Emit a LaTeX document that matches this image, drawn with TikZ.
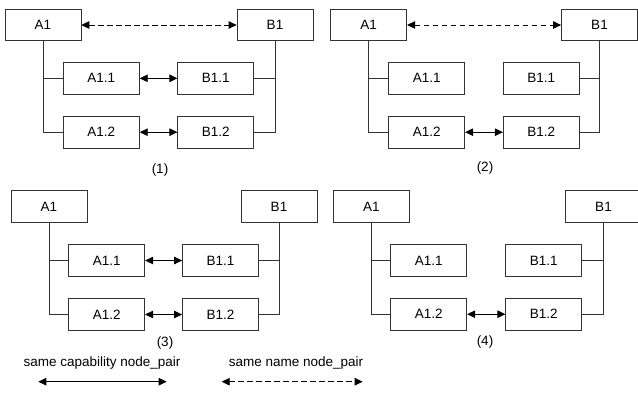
\documentclass[tikz,border=0pt]{standalone}
\usepackage{fontspec}
\setmainfont{Liberation Sans}
\usetikzlibrary{arrows.meta}
\tikzset{
  box/.style={draw=black!80, line width=0.8pt, minimum width=76pt, minimum height=32pt, inner sep=0pt, font=\fontsize{13.5}{15}\selectfont},
  topbox/.style={box, minimum height=31.5pt},
  tree/.style={draw=black!80, line width=0.8pt},
  pair/.style={draw=black, line width=0.9pt, {Triangle[length=8pt,width=7.5pt]}-{Triangle[length=8pt,width=7.5pt]}},
  namepair/.style={pair, dash pattern=on 5.5pt off 3.5pt},
  lbl/.style={inner sep=0pt, font=\fontsize{13.5}{15}\selectfont},
}
\begin{document}
\begin{tikzpicture}[x=1pt,y=-1pt]
\useasboundingbox (0,0) rectangle (638,392);
% ---------- panel 1
\node[topbox] (p1A1) at (42.9,25) {A1};
\node[topbox] (p1B1) at (275,25) {B1};
\node[box] (p1A11) at (101.3,78.3) {A1.1};
\node[box] (p1B11) at (215.8,78.3) {B1.1};
\node[box] (p1A12) at (101.3,132.2) {A1.2};
\node[box] (p1B12) at (215.8,132.2) {B1.2};
\draw[tree] (p1A1.south) |- (p1A12.west);
\draw[tree] (p1A11.west) -- (p1A11.west -| p1A1.south);
\draw[tree] (p1B1.south) |- (p1B12.east);
\draw[tree] (p1B11.east) -- (p1B11.east -| p1B1.south);
\draw[namepair] (p1A1) -- (p1B1);
\draw[pair] (p1A11) -- (p1B11);
\draw[pair] (p1A12) -- (p1B12);
\node[lbl] (p1lbl) at (160,170) {(1)};
% ---------- panel 2
\node[topbox] (p2A1) at (368.7,25) {A1};
\node[topbox] (p2B1) at (599.5,25) {B1};
\node[box] (p2A11) at (426.7,78.3) {A1.1};
\node[box] (p2B11) at (541.3,78.3) {B1.1};
\node[box] (p2A12) at (426.7,132.2) {A1.2};
\node[box] (p2B12) at (541.3,132.2) {B1.2};
\draw[tree] (p2A1.south) |- (p2A12.west);
\draw[tree] (p2A11.west) -- (p2A11.west -| p2A1.south);
\draw[tree] (p2B1.south) |- (p2B12.east);
\draw[tree] (p2B11.east) -- (p2B11.east -| p2B1.south);
\draw[namepair] (p2A1) -- (p2B1);
\draw[pair] (p2A12) -- (p2B12);
\node[lbl] (p2lbl) at (485,168) {(2)};
% ---------- panel 3
\node[box] (p3A1) at (49,206.7) {A1};
\node[box] (p3B1) at (279,206.7) {B1};
\node[box] (p3A11) at (106.7,260.5) {A1.1};
\node[box] (p3B11) at (220.5,260.5) {B1.1};
\node[box] (p3A12) at (106.7,314.5) {A1.2};
\node[box] (p3B12) at (220.5,314.5) {B1.2};
\draw[tree] (p3A1.south) |- (p3A12.west);
\draw[tree] (p3A11.west) -- (p3A11.west -| p3A1.south);
\draw[tree] (p3B1.south) |- (p3B12.east);
\draw[tree] (p3B11.east) -- (p3B11.east -| p3B1.south);
\draw[pair] (p3A11) -- (p3B11);
\draw[pair] (p3A12) -- (p3B12);
\node[lbl] (p3lbl) at (165,343) {(3)};
% ---------- panel 4
\node[box] (p4A1) at (371.3,206.7) {A1};
\node[box] (p4B1) at (603.5,206.7) {B1};
\node[box] (p4A11) at (428.8,260.8) {A1.1};
\node[box] (p4B11) at (543.8,260.8) {B1.1};
\node[box] (p4A12) at (428.8,314.2) {A1.2};
\node[box] (p4B12) at (543.8,314.2) {B1.2};
\draw[tree] (p4A1.south) |- (p4A12.west);
\draw[tree] (p4A11.west) -- (p4A11.west -| p4A1.south);
\draw[tree] (p4B1.south) |- (p4B12.east);
\draw[tree] (p4B11.east) -- (p4B11.east -| p4B1.south);
\draw[pair] (p4A12) -- (p4B12);
\node[lbl] (p4lbl) at (485,341.7) {(4)};
% ---------- legend
\node[lbl] (lg1) at (102,363) {same capability node\_pair};
\node[lbl] (lg2) at (296,363) {same name node\_pair};
\coordinate (lg1a) at (38.3,381.7);
\coordinate (lg1b) at (166.7,381.7);
\coordinate (lg2a) at (221.7,381.7);
\coordinate (lg2b) at (362.7,381.7);
\draw[pair] (lg1a) -- (lg1b);
\draw[namepair] (lg2a) -- (lg2b);
\end{tikzpicture}
\end{document}
